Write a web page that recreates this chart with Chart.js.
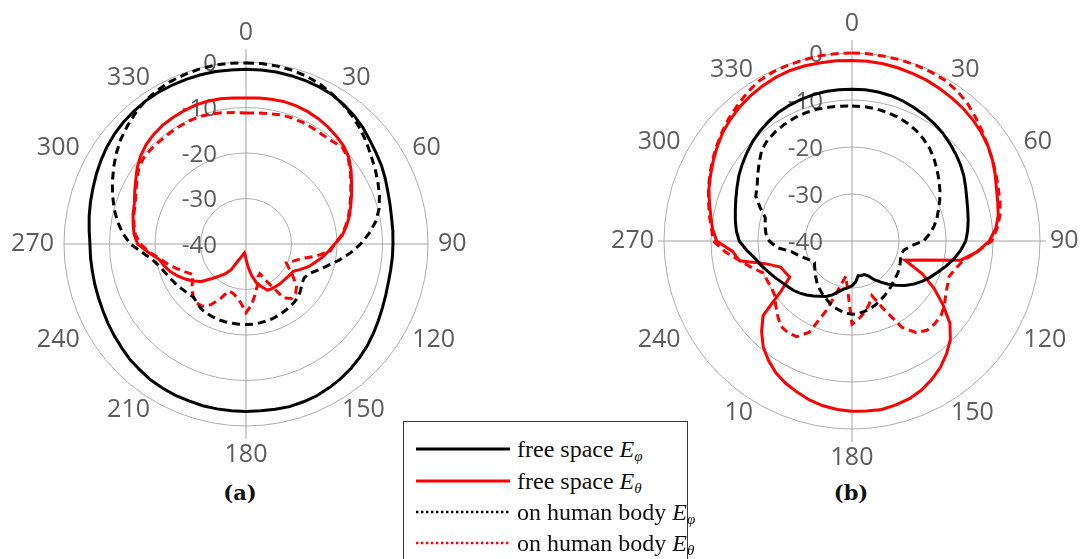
<!DOCTYPE html>
<html>
<head>
<meta charset="utf-8">
<script src="https://cdn.jsdelivr.net/npm/chart.js@4.4.1/dist/chart.umd.min.js"></script>
<style>
  html, body { margin: 0; padding: 0; background: #fff; }
  body { width: 1083px; height: 559px; position: relative; overflow: hidden; }
  canvas { position: absolute; }
  #polarA { left: 0px; top: 22px; }
  #polarB { left: 604px; top: 13px; }
  .cap { position: absolute; top: 480px; font: bold 21px 'DejaVu Serif', serif; color: #111; transform: translateX(-50%); line-height: 26px; }
  #legend { position: absolute; left: 403px; top: 421px; width: 285px; height: 150px; border: 1.5px solid #3a3a3a; box-sizing: border-box; background: #fff; }
  .row { position: absolute; left: 0; width: 280px; height: 28px; }
  .row svg { position: absolute; left: 12px; top: 12px; }
  .row span { position: absolute; left: 113px; top: 0; white-space: nowrap; font: 24px 'Liberation Serif', 'Times New Roman', serif; line-height: 28px; color: #111; }
  .row sub { font-size: 15px; vertical-align: -4px; line-height: 0; }
</style>
</head>
<body>
<canvas id="polarA" width="468" height="444"></canvas>
<canvas id="polarB" width="476" height="456"></canvas>
<div class="cap" style="left:240px">(a)</div>
<div class="cap" style="left:851px">(b)</div>
<div id="legend">
  <div class="row" style="top:13px">
    <svg width="94" height="4"><line x1="0" y1="2" x2="94" y2="2" stroke="#000" stroke-width="3"/></svg>
    <span>free space <i>E</i><sub><i>φ</i></sub></span>
  </div>
  <div class="row" style="top:45px">
    <svg width="94" height="4"><line x1="0" y1="2" x2="94" y2="2" stroke="#ff0000" stroke-width="3"/></svg>
    <span>free space <i>E</i><sub><i>θ</i></sub></span>
  </div>
  <div class="row" style="top:76px">
    <svg width="94" height="4"><line x1="0" y1="2" x2="94" y2="2" stroke="#000" stroke-width="2.6" stroke-dasharray="2.4 2.6"/></svg>
    <span>on human body <i>E</i><sub><i>φ</i></sub></span>
  </div>
  <div class="row" style="top:107px">
    <svg width="94" height="4"><line x1="0" y1="2" x2="94" y2="2" stroke="#ff0000" stroke-width="2.6" stroke-dasharray="2.4 2.6"/></svg>
    <span>on human body <i>E</i><sub><i>θ</i></sub></span>
  </div>
</div>
<script>
// Angle of each sample (degrees, clockwise from top)
const angles = [0,5,10,15,20,25,30,35,40,45,50,55,60,65,70,75,80,85,
  90,95,100,105,110,115,120,125,130,135,140,145,150,155,160,165,170,175,
  180,185,190,195,200,205,210,215,220,225,230,235,240,245,250,255,260,265,
  270,275,280,285,290,295,300,305,310,315,320,325,330,335,340,345,350,355];

// Radial tick labels (dB)
const tickValues = [0, -10, -20, -30, -40];

// Angle labels around each plot
const anglesTextA = ['0','30','60','90','120','150','180','210','240','270','300','330'];
const anglesTextB = ['0','30','60','90','120','150','180','10','240','270','300','330'];

// (a) gain patterns, dB
const aFreePhi = [-1.6,-1.6,-1.6,-1.7,-1.8,-1.9,-2.1,-2.6,-3.1,-3.7,-4.5,-5.1,-5.6,-6.2,-6.8,-7.2,-7.5,-7.6,
  -7.7,-7.7,-7.7,-7.6,-7.3,-6.9,-6.4,-5.8,-5.2,-4.7,-4.2,-3.8,-3.5,-3.2,-3.1,-3.0,-3.1,-3.2,
  -3.2,-3.2,-3.2,-3.2,-3.3,-3.3,-3.4,-3.5,-3.8,-4.0,-4.4,-4.7,-5.0,-5.3,-5.5,-5.6,-5.7,-5.7,
  -5.7,-5.4,-5.0,-4.6,-4.2,-3.7,-3.2,-2.7,-2.3,-2.0,-1.8,-1.6,-1.5,-1.5,-1.5,-1.5,-1.5,-1.6];
const aFreeTheta = [-7.9,-7.8,-7.7,-7.6,-7.7,-7.9,-8.2,-8.6,-9.1,-9.6,-10.5,-11.8,-13.2,-14.4,-15.5,-16.5,-17.6,-18.8,
  -20.5,-21.8,-23.0,-24.3,-25.4,-26.8,-28.0,-28.2,-28.4,-28.5,-28.5,-28.6,-28.7,-28.8,-30.0,-31.2,-33.0,-35.0,
  -36.7,-37.6,-38.0,-37.6,-37.0,-36.0,-33.5,-32.0,-30.8,-29.2,-27.2,-25.8,-24.6,-23.4,-22.3,-21.4,-20.6,-18.5,
  -16.2,-15.3,-14.8,-14.3,-13.9,-13.0,-12.0,-10.8,-9.8,-9.0,-8.5,-8.1,-7.9,-7.7,-7.5,-7.5,-7.6,-7.8];
const aBodyPhi = [-0.2,-0.2,-0.3,-0.5,-0.8,-1.3,-2.0,-2.7,-3.5,-4.4,-5.4,-6.4,-7.2,-8.0,-8.8,-9.7,-11.0,-12.8,
  -14.8,-17.0,-19.3,-21.5,-23.2,-24.6,-25.2,-25.0,-24.3,-23.7,-23.4,-23.2,-23.0,-22.8,-22.6,-22.5,-22.4,-22.3,
  -22.3,-22.3,-22.3,-22.3,-22.3,-22.4,-22.5,-22.7,-23.2,-23.6,-23.2,-22.8,-22.3,-21.8,-21.2,-20.5,-19.3,-17.3,
  -14.6,-12.8,-11.3,-10.0,-8.8,-7.6,-6.4,-5.2,-4.1,-3.2,-2.3,-1.5,-1.0,-0.6,-0.4,-0.2,-0.1,-0.1];
const aBodyTheta = [-11.2,-11.1,-10.9,-10.6,-10.5,-10.5,-10.6,-10.7,-10.5,-10.0,-10.7,-12.0,-13.4,-14.6,-15.7,-16.7,-17.8,-19.0,
  -20.5,-21.5,-24.5,-27.5,-29.0,-30.2,-29.0,-27.3,-25.5,-24.6,-24.4,-25.5,-30.0,-32.8,-32.3,-30.5,-28.6,-26.5,
  -24.9,-27.0,-28.2,-28.8,-29.0,-26.8,-24.6,-23.3,-23.1,-23.6,-24.5,-25.6,-26.6,-25.4,-24.0,-22.4,-20.9,-18.8,
  -16.8,-15.6,-15.0,-14.5,-14.1,-13.3,-12.3,-11.2,-10.6,-10.5,-10.5,-10.4,-10.3,-10.2,-10.2,-10.4,-10.7,-11.0];

// (b) gain patterns, dB
const bFreePhi = [-7.7,-7.7,-7.8,-8.0,-8.3,-8.7,-9.1,-9.5,-10.0,-10.6,-11.2,-11.8,-12.5,-13.3,-14.0,-14.5,-14.9,-15.3,
  -15.8,-16.8,-18.0,-19.3,-20.6,-21.7,-22.8,-24.0,-25.3,-26.7,-28.0,-29.3,-30.5,-31.8,-32.4,-32.4,-32.5,-31.2,
  -30.5,-30.0,-29.6,-28.8,-27.8,-27.0,-26.4,-25.7,-25.0,-24.3,-23.7,-23.2,-22.6,-21.8,-21.0,-20.0,-19.0,-17.5,
  -16.0,-15.3,-14.8,-14.3,-13.7,-13.0,-12.2,-11.5,-10.8,-10.1,-9.5,-9.0,-8.5,-8.2,-8.0,-7.8,-7.7,-7.7];
const bFreeTheta = [-1.6,-1.6,-1.7,-1.9,-2.1,-2.3,-2.6,-2.9,-3.2,-3.6,-4.1,-4.7,-5.5,-6.4,-7.3,-7.9,-8.4,-9.3,
  -10.8,-13.3,-16.5,-24.4,-28.0,-23.5,-19.8,-16.4,-12.8,-10.4,-8.7,-7.2,-6.0,-5.0,-4.3,-3.9,-3.6,-3.7,
  -3.8,-4.0,-4.4,-5.0,-5.8,-6.6,-7.6,-9.0,-10.6,-12.8,-15.3,-21.7,-24.7,-24.3,-23.8,-21.2,-15.7,-14.5,
  -11.2,-10.2,-9.5,-8.6,-7.6,-6.8,-5.9,-5.0,-4.1,-3.4,-2.8,-2.3,-1.9,-1.6,-1.4,-1.4,-1.5,-1.5];
const bBodyPhi = [-11.3,-11.3,-11.4,-11.6,-11.9,-12.3,-12.8,-13.5,-14.3,-15.3,-16.4,-17.4,-18.4,-19.4,-20.4,-21.3,-22.3,-23.5,
  -24.8,-27.5,-28.8,-29.2,-29.0,-28.7,-28.4,-28.1,-27.9,-27.6,-27.2,-26.8,-26.4,-26.0,-25.5,-25.1,-24.8,-24.5,
  -24.4,-24.6,-25.0,-25.4,-26.0,-26.6,-27.2,-27.8,-28.4,-29.1,-29.8,-30.3,-30.8,-30.3,-29.4,-28.2,-26.9,-24.0,
  -22.4,-21.6,-21.2,-20.9,-19.2,-17.4,-16.7,-15.5,-14.2,-12.8,-12.0,-11.6,-11.3,-11.1,-11.0,-11.0,-11.1,-11.2];
const bBodyTheta = [0.0,0.0,-0.1,-0.1,-0.2,-0.3,-0.5,-1.0,-1.8,-2.8,-3.8,-4.7,-5.5,-6.2,-6.9,-7.4,-8.0,-9.0,
  -10.3,-13.3,-16.0,-17.2,-18.0,-17.6,-17.0,-16.0,-15.3,-15.1,-15.2,-16.2,-18.8,-24.0,-27.6,-26.0,-24.6,-23.4,
  -22.3,-29.5,-32.4,-29.8,-24.5,-18.6,-16.5,-16.2,-16.4,-17.6,-18.8,-19.9,-20.2,-20.1,-20.0,-18.0,-15.8,-13.0,
  -10.5,-10.0,-9.2,-8.4,-7.5,-6.6,-5.7,-4.8,-3.9,-3.0,-2.2,-1.3,-0.6,-0.3,-0.2,-0.1,0.0,0.0];

// Axis cross, radial tick labels and angle labels, placed with the radial scale
const polarDecor = {
  id: 'polarDecor',
  beforeDatasetsDraw(chart, args, o) {
    const s = chart.scales.r;
    const ctx = chart.ctx;
    const R = s.drawingArea;
    const cx = s.xCenter, cy = s.yCenter;
    ctx.save();
    ctx.strokeStyle = o.axisColor;
    ctx.lineWidth = 1;
    [0, 90, 180, 270].forEach(deg => {
      const ext = deg % 180 === 0 ? o.vExt : o.hExt;
      const p = s.getPointPosition(angles.indexOf(deg), R + ext);
      ctx.beginPath();
      ctx.moveTo(cx, cy);
      ctx.lineTo(p.x, p.y);
      ctx.stroke();
    });
    ctx.fillStyle = o.textColor;
    ctx.textBaseline = 'middle';
    ctx.font = '24px "Open Sans", sans-serif';
    ctx.textAlign = 'right';
    tickValues.forEach(v => {
      ctx.fillText(String(v), cx - 29, cy - s.getDistanceFromCenterForValue(v) + 2);
    });
    ctx.font = '25px "Open Sans", sans-serif';
    o.angleLabels.forEach((txt, i) => {
      const deg = i * 30;
      const onAxis = deg % 180 === 0;
      const p = s.getPointPosition(angles.indexOf(deg), R + (onAxis ? 29 : 10));
      ctx.textAlign = onAxis ? 'center' : (deg < 180 ? 'left' : 'right');
      ctx.fillText(txt, p.x, p.y);
    });
    ctx.restore();
  }
};

function series(data, color, dashed) {
  return {
    data: data,
    borderColor: color,
    backgroundColor: color,
    borderWidth: 3,
    borderDash: dashed ? [8, 5] : [],
    fill: false,
    pointRadius: 0,
    pointHoverRadius: 0,
    tension: 0
  };
}

function makePolar(id, sets, labelsText, hExt, padding) {
  return new Chart(document.getElementById(id), {
    type: 'radar',
    data: {
      labels: angles,
      datasets: [
        series(sets[0], '#000000', false),
        series(sets[1], '#ff0000', false),
        series(sets[2], '#000000', true),
        series(sets[3], '#ff0000', true)
      ]
    },
    options: {
      responsive: false,
      animation: false,
      events: [],
      layout: { padding: padding },
      plugins: {
        legend: { display: false },
        tooltip: { enabled: false },
        polarDecor: { angleLabels: labelsText, vExt: 13, hExt: hExt, axisColor: '#a3a3a3', textColor: '#5c5c5c' }
      },
      scales: {
        r: {
          min: -40,
          max: 0,
          startAngle: 0,
          ticks: { stepSize: 10, display: false },
          grid: { circular: true, color: '#adadad', lineWidth: 1 },
          angleLines: { display: false },
          pointLabels: { display: false }
        }
      }
    },
    plugins: [polarDecor]
  });
}

makePolar('polarA', [aFreePhi, aFreeTheta, aBodyPhi, aBodyTheta], anglesTextA, 0,
  { left: 64, right: 40, top: 40, bottom: 40 });
makePolar('polarB', [bFreePhi, bFreeTheta, bBodyPhi, bBodyTheta], anglesTextB, 6,
  { left: 60, right: 40, top: 40, bottom: 40 });
</script>
</body>
</html>
